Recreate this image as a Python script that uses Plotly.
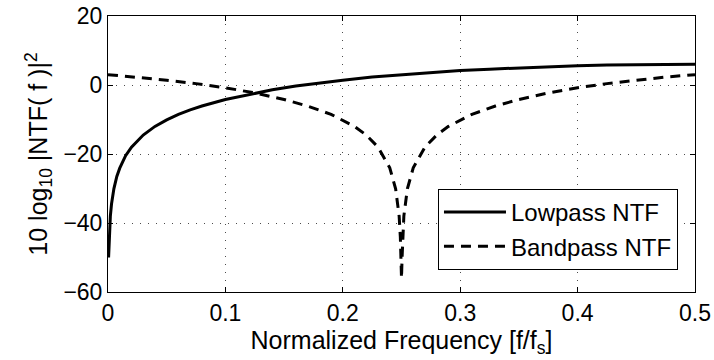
import plotly.graph_objects as go

# Lowpass NTF
lp_f = [0.0005, 0.001, 0.002, 0.003, 0.005, 0.0075, 0.01, 0.015, 0.02, 0.03, 0.04,
        0.05, 0.06, 0.07, 0.08, 0.1, 0.12, 0.14, 0.16, 0.18, 0.2, 0.225, 0.25,
        0.275, 0.3, 0.325, 0.35, 0.375, 0.4, 0.425, 0.45, 0.475, 0.5]
lp_db = [-50.0, -44.0, -38.0, -34.5, -30.1, -26.5, -24.1, -20.5, -18.0, -14.5, -12.0,
         -10.1, -8.5, -7.2, -6.1, -4.2, -2.7, -1.4, -0.3, 0.6, 1.4, 2.3, 3.0,
         3.7, 4.2, 4.6, 5.0, 5.3, 5.6, 5.8, 5.9, 6.0, 6.0]

# Bandpass NTF
bp_f = [0.0, 0.025, 0.05, 0.075, 0.1, 0.125, 0.15, 0.17, 0.19, 0.21, 0.22, 0.23,
        0.24, 0.245, 0.248, 0.249, 0.2495, 0.25,
        0.2505, 0.251, 0.252, 0.255, 0.26, 0.27, 0.28, 0.29, 0.31, 0.33, 0.35,
        0.375, 0.4, 0.425, 0.45, 0.475, 0.5]
bp_db = [3.0, 2.3, 1.4, 0.4, -0.8, -2.3, -4.2, -6.1, -8.5, -12.0, -14.5, -18.0,
         -24.0, -30.1, -38.0, -44.0, -50.0, -56.0,
         -50.0, -44.0, -38.0, -30.1, -24.0, -18.0, -14.5, -12.0, -8.5, -6.1, -4.2,
         -2.3, -0.8, 0.4, 1.4, 2.3, 3.0]

x_ticks = [0, 0.1, 0.2, 0.3, 0.4, 0.5]
x_tick_labels = ["0", "0.1", "0.2", "0.3", "0.4", "0.5"]
y_ticks = [-60, -40, -20, 0, 20]
y_tick_labels = ["\u221260", "\u221240", "\u221220", "0", "20"]

FONT = "Liberation Sans, Arial, sans-serif"
FS = 23
FT = 25

fig = go.Figure()
fig.add_trace(go.Scatter(x=lp_f, y=lp_db, mode="lines", name="Lowpass NTF",
                         line=dict(color="black", width=3)))
fig.add_trace(go.Scatter(x=bp_f, y=bp_db, mode="lines", name="Bandpass NTF",
                         line=dict(color="black", width=3, dash="10px,7px")))

axis_common = dict(
    showline=True, linecolor="black", linewidth=1, mirror="ticks",
    ticks="inside", ticklen=5, tickcolor="black",
    showgrid=True, gridcolor="rgba(0,0,0,0.7)", griddash="1px,7px", gridwidth=1,
    zeroline=False, automargin=False,
    tickfont=dict(family=FONT, size=FS, color="black"),
)

fig.update_xaxes(range=[0, 0.5], tickvals=x_ticks, ticktext=x_tick_labels,
                 title=dict(text="Normalized Frequency [f/f<sub>s</sub>]",
                            font=dict(family=FONT, size=FT, color="black"), standoff=3),
                 **axis_common)
fig.update_yaxes(range=[-60, 20], tickvals=y_ticks, ticktext=y_tick_labels,
                 title=dict(text="10 log<sub>10</sub> |NTF( f )|<sup>2</sup>",
                            font=dict(family=FONT, size=FT, color="black"), standoff=8),
                 **axis_common)

fig.update_layout(
    width=714, height=360,
    margin=dict(l=108, r=19, t=16, b=68),
    paper_bgcolor="white", plot_bgcolor="white",
    font=dict(family=FONT, size=FS, color="black"),
    legend=dict(x=0.971, y=0.08, xanchor="right", yanchor="bottom",
                bgcolor="white", bordercolor="black", borderwidth=1,
                font=dict(family=FONT, size=24, color="black"),
                tracegroupgap=0, itemwidth=62),
    showlegend=True,
)

fig.write_html("out.html")
